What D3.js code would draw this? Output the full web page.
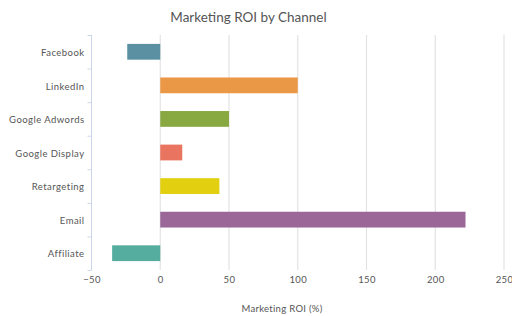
<!DOCTYPE html>
<html>
<head>
<meta charset="utf-8">
<script src="https://cdn.jsdelivr.net/npm/d3@7"></script>
<style>
  body { margin: 0; background: #fff; }
  text { font-family: "Lato", "Open Sans", sans-serif; }
</style>
</head>
<body>
<div id="chart"></div>
<script>
// chart data
const channels = ["Facebook", "LinkedIn", "Google Adwords", "Google Display", "Retargeting", "Email", "Affiliate"];
const roi = [-24, 100, 50, 16, 43, 222, -35];
const barColors = ["#5b8fa2", "#eb9846", "#88a841", "#e9745f", "#e1cf10", "#9a6798", "#55ad9f"];
const xTicks = [-50, 0, 50, 100, 150, 200, 250];

const svgWidth = 512;
const svgHeight = 316;

const margin = { top: 35, right: 8, bottom: 46, left: 91.5 };

const width = svgWidth - margin.left - margin.right;
const height = svgHeight - margin.top - margin.bottom;

const svg = d3.select("#chart")
    .append("svg")
    .attr("width", svgWidth)
    .attr("height", svgHeight);

const chartGroup = svg.append("g")
    .attr("transform", `translate(${margin.left}, ${margin.top})`);

const xScale = d3.scaleLinear()
    .domain([-50, 250])
    .range([0, width]);

const yScale = d3.scaleBand()
    .domain(channels)
    .range([0, height])
    .paddingInner(0.53)
    .paddingOuter(0.265);

// gridlines
chartGroup.append("g")
    .selectAll("line")
    .data(xTicks.slice(1))
    .enter()
    .append("line")
    .attr("x1", d => xScale(d))
    .attr("x2", d => xScale(d))
    .attr("y1", 0)
    .attr("y2", height)
    .attr("stroke", "#e3e3e3")
    .attr("stroke-width", 1.2);

// bars
chartGroup.selectAll("rect")
    .data(roi)
    .enter()
    .append("rect")
    .attr("x", d => xScale(Math.min(0, d)))
    .attr("width", d => Math.abs(xScale(d) - xScale(0)))
    .attr("y", (d, i) => yScale(channels[i]))
    .attr("height", yScale.bandwidth())
    .attr("fill", (d, i) => barColors[i]);

// bottom axis labels
const bottomAxis = d3.axisBottom(xScale)
    .tickValues(xTicks)
    .tickSize(0)
    .tickPadding(6)
    .tickFormat(d => d < 0 ? "\u2212" + Math.abs(d) : d);

const xAxisG = chartGroup.append("g")
    .attr("transform", `translate(0, ${height})`)
    .call(bottomAxis);
xAxisG.select(".domain").remove();
xAxisG.selectAll("text")
    .style("font-size", "9.5px")
    .style("letter-spacing", "0.4px")
    .attr("fill", "#555");

// left axis (category boundaries as ticks)
const leftAxisG = chartGroup.append("g");
leftAxisG.append("line")
    .attr("x1", 0).attr("x2", 0)
    .attr("y1", 0).attr("y2", height)
    .attr("stroke", "#ccd6eb")
    .attr("stroke-width", 1);

const step = yScale.step();
leftAxisG.selectAll(".bound")
    .data(d3.range(channels.length + 1))
    .enter()
    .append("line")
    .attr("class", "bound")
    .attr("x1", -4).attr("x2", 0)
    .attr("y1", i => i * step + 0.5)
    .attr("y2", i => i * step + 0.5)
    .attr("stroke", "#ccd6eb");

leftAxisG.selectAll(".cat")
    .data(channels)
    .enter()
    .append("text")
    .attr("class", "cat")
    .attr("x", -7)
    .attr("y", d => yScale(d) + yScale.bandwidth() / 2)
    .attr("dy", "0.45em")
    .attr("text-anchor", "end")
    .style("font-size", "9.5px")
    .style("letter-spacing", "0.45px")
    .attr("fill", "#555")
    .text(d => d);

// title
svg.append("text")
    .attr("x", 248.5)
    .attr("y", 22)
    .attr("text-anchor", "middle")
    .style("font-size", "13.5px")
    .attr("fill", "#555")
    .text("Marketing ROI by Channel");

// axis title
svg.append("text")
    .attr("x", 282)
    .attr("y", 312)
    .attr("text-anchor", "middle")
    .style("font-size", "9.5px")
    .style("letter-spacing", "0.3px")
    .attr("fill", "#555")
    .text("Marketing ROI (%)");
</script>
</body>
</html>
